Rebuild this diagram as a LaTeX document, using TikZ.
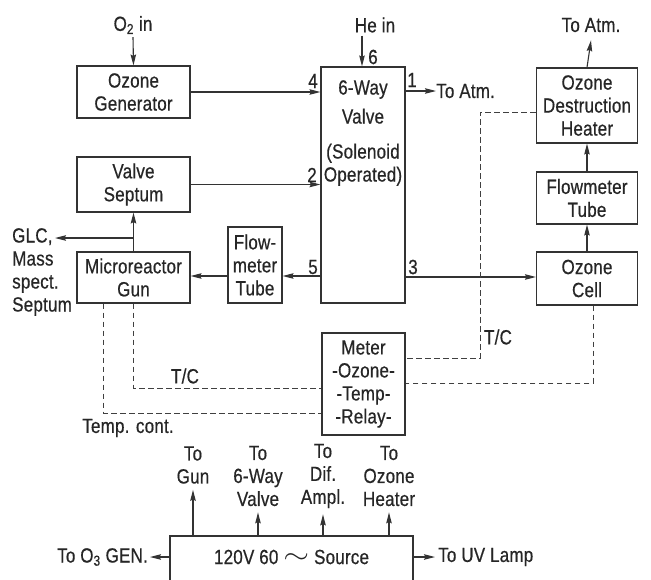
\documentclass[tikz,border=0pt]{standalone}
\usepackage{fontspec}
\setmainfont{Liberation Sans}[FakeStretch=0.83, LetterSpace=1, FakeBold=0.5]
\usetikzlibrary{arrows.meta}
\begin{document}
\begin{tikzpicture}[x=1pt,y=-1pt,
  every node/.style={font=\fontsize{20.5}{23}\selectfont, text=black!85, inner sep=0pt, align=center},
  box/.style={draw=black!80, line width=1.1pt},
  arr/.style={draw=black!80, line width=1.1pt, -{Stealth[length=11pt,width=5.5pt,inset=1.5pt]}},
  dsh/.style={draw=black!75, line width=1pt, dash pattern=on 5.5pt off 3.5pt}]
\clip (0,0) rectangle (651,579);
\fill[white] (0,0) rectangle (651,579);
% boxes
\node[box, minimum width=113, minimum height=52] (og) at (133.5,92) {Ozone\\Generator};
\node[box, minimum width=113, minimum height=55] (vs) at (133.5,184.5) {Valve\\Septum};
\node[box, minimum width=113, minimum height=51] (mg) at (133.5,277.5) {Microreactor\\Gun};
\node[box, minimum width=54, minimum height=76] (fl) at (255,265) {Flow-\\meter\\Tube};
\node[box, minimum width=84, minimum height=236] (vv) at (363,185) {};
\node (vvt) at (363,133) {6-Way\\[6pt]Valve\\[12pt](Solenoid\\Operated)};
\node[box, minimum width=101, minimum height=75] (hh) at (587,105.5) {Ozone\\Destruction\\Heater};
\node[box, minimum width=101, minimum height=52] (fr) at (587,198) {Flowmeter\\Tube};
\node[box, minimum width=101, minimum height=53] (oc) at (587,278.5) {Ozone\\Cell};
\node[box, minimum width=83, minimum height=102] (mt) at (363.5,384) {Meter\\-Ozone-\\-Temp-\\-Relay-};
\node[box, minimum width=243, minimum height=64] (src) at (291.5,568) {};
\node (srct) at (291.5,557) {120V 60 \raisebox{1pt}{\scalebox{1.6}[1.3]{$\sim$}} Source};
% top labels
\node (o2) at (133,25) {O\textsubscript{2} in};
\node (he) at (375,25) {He in};
\node (ta) at (591,25) {To Atm.};
\node (p6) at (373,57) {6};
\node (p4) at (313,81) {4};
\node (p2) at (312,175) {2};
\node (p5) at (313,267) {5};
\node (p1) at (412,80) {1};
\node (p3) at (413,267) {3};
\node[anchor=west] (ta1) at (436,91) {To Atm.};
\node[anchor=west, align=left] (glc) at (12,272) {GLC,\\Mass\\spect.\\Septum};
\node (tc1) at (498,337) {T/C};
\node (tc2) at (185,376) {T/C};
\node (tcont) at (128,428) {Temp. cont.};
% bottom labels
\node (t1) at (193,465) {To\\Gun};
\node (t2) at (258,476) {To\\6-Way\\Valve};
\node (t3) at (323,476) {To\\Dif.\\Ampl.};
\node (t4) at (389,476) {To\\Ozone\\Heater};
\node[anchor=east] (o3) at (148,557) {To O\textsubscript{3} GEN.};
\node[anchor=west] (uv) at (438,557) {To UV Lamp};
% flow arrows
\draw[arr] (o2.south) ++(0,3) -- (og.north);
\draw[arr] ([xshift=-13pt,yshift=-3pt]he.south) -- (vv.north -| 362,0);
\draw[arr] (og.east) -- (og.east -| vv.west);
\draw[arr] (vs.east) -- (vs.east -| vv.west);
\draw[arr] (vv.west |- 0,276) -- (fl.east |- 0,276);
\draw[arr] (fl.west |- 0,276) -- (mg.east |- 0,276);
\draw[arr] (vv.east |- 0,91) -- (ta1.west);
\draw[arr] (vv.east |- 0,277) -- (oc.west |- 0,277);
\draw[arr] (oc.north) -- (fr.south);
\draw[arr] (fr.north) -- (hh.north |- hh.south);
\draw[arr] (hh.north) -- ([yshift=-8pt]ta.south);
\draw[arr] (mg.north) -- (vs.south);
\draw[arr] (mg.north |- 0,238) -- (55,238);
% dashed
\draw[dsh] (hh.west |- 0,112) -| (480,358) -- (mt.east |- 0,358);
\draw[dsh] ([xshift=6pt]oc.south) |- (mt.east |- 0,383);
\draw[dsh] (mg.south) |- (mt.west |- 0,388);
\draw[dsh] ([xshift=-30pt]mg.south) |- (mt.west |- 0,413);
% source arrows
\draw[arr] (src.north -| t1) -- ([yshift=-6pt]t1.south);
\draw[arr] (src.north -| t2) -- ([yshift=-6pt]t2.south);
\draw[arr] (src.north -| t3) -- ([yshift=-6pt]t3.south);
\draw[arr] (src.north -| t4) -- ([yshift=-6pt]t4.south);
\draw[arr] (src.west |- srct) -- ([xshift=2pt]o3.east);
\draw[arr] (src.east |- srct) -- ([xshift=-3pt]uv.west);
\end{tikzpicture}
\end{document}
